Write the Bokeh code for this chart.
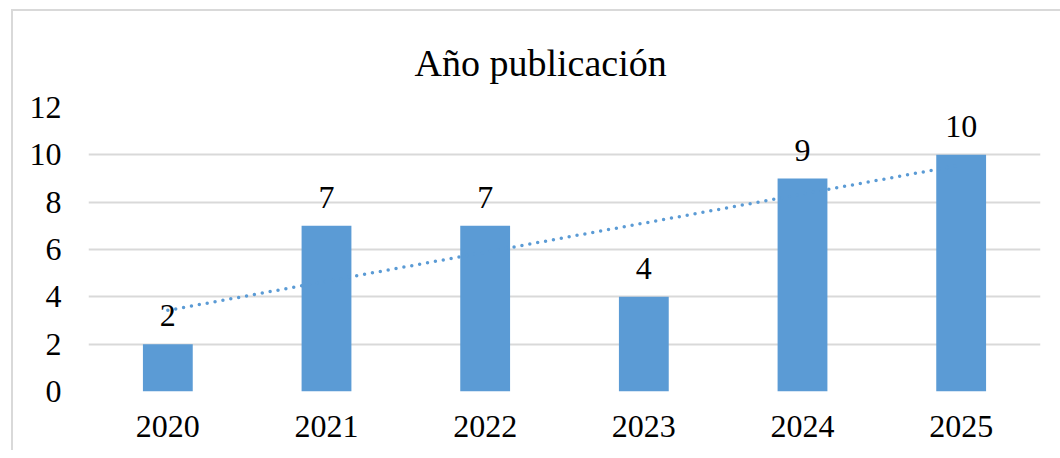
from bokeh.plotting import figure
from bokeh.models import ColumnDataSource, LabelSet, Range1d
from bokeh.embed import file_html
from bokeh.resources import INLINE
from bokeh.core.properties import value

years = ["2020", "2021", "2022", "2023", "2024", "2025"]
counts = [2, 7, 7, 4, 9, 10]
y_ticks = [0, 2, 4, 6, 8, 10, 12]
title_text = "Año publicación"

# linear trend (least squares) over the categories
n = len(counts)
xs = list(range(1, n + 1))
mx = sum(xs) / n
my = sum(counts) / n
slope = sum((x - mx) * (y - my) for x, y in zip(xs, counts)) / sum((x - mx) ** 2 for x in xs)
trend = [my + slope * (x - mx) for x in xs]

FONT = "'Liberation Serif', 'Times New Roman', serif"
BLUE = "#5B9BD5"
GRID = "#d9d9d9"

src = ColumnDataSource(dict(year=years, count=counts, label=[str(c) for c in counts]))

p = figure(x_range=years, y_range=Range1d(0, 12), width=1049, height=441,
           output_backend="svg", toolbar_location=None,
           min_border_left=75, min_border_right=22, min_border_top=96, min_border_bottom=61)
p.styles = {"margin-left": "11px", "margin-top": "9px",
            "border-left": "2px solid #d9d9d9", "border-top": "2px solid #d9d9d9"}

p.title.text = title_text
p.title.text_font = FONT
p.title.text_font_size = "38px"
p.title.text_font_style = "normal"
p.title.align = "left"
p.title.vertical_align = "top"
p.title.offset = 326
p.title.standoff = 44
p.title.text_color = "#000000"

p.vbar(x="year", top="count", width=0.314, source=src, color=BLUE, line_color=None)
p.line(x=years, y=trend, line_color=BLUE, line_width=3.5, line_dash="0 8", line_cap="round")

labels = LabelSet(x="year", y="count", text="label", source=src, text_align="center",
                  text_baseline="alphabetic", y_offset=18, text_font=value(FONT),
                  text_font_size="32px", text_color="#000000")
p.add_layout(labels)

p.outline_line_color = None
p.background_fill_color = "white"
p.border_fill_color = "white"
p.xgrid.grid_line_color = None
p.ygrid.grid_line_color = GRID
p.ygrid.grid_line_width = 2
p.yaxis.ticker = y_ticks
for ax in (p.xaxis[0], p.yaxis[0]):
    ax.axis_line_color = None
    ax.major_tick_line_color = None
    ax.minor_tick_line_color = None
    ax.major_label_text_font = FONT
    ax.major_label_text_font_size = "32px"
    ax.major_label_text_color = "#000000"
p.yaxis.major_label_standoff = 21
p.xaxis.major_label_standoff = 18
p.x_range.range_padding = 0

open("out.html", "w").write(file_html(p, INLINE))
